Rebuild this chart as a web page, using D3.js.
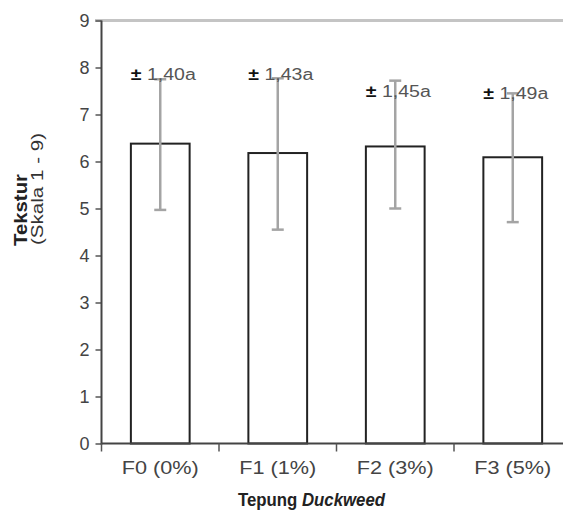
<!DOCTYPE html>
<html>
<head>
<meta charset="utf-8">
<script src="https://cdn.jsdelivr.net/npm/d3@7"></script>
<style>
  html, body { margin: 0; padding: 0; background: #fff; }
  svg { display: block; font-family: "Liberation Sans", Arial, sans-serif; }
</style>
</head>
<body>
<svg id="chart" width="563" height="512"></svg>
<script>
const categories = ["F0 (0%)", "F1 (1%)", "F2 (3%)", "F3 (5%)"];
const means = [6.38, 6.18, 6.32, 6.09];
const errUpper = [7.75, 7.77, 7.72, 7.45];
const errLower = [4.97, 4.55, 5.0, 4.71];
const sdLabels = ["1,40a", "1,43a", "1,45a", "1,49a"];
const labelY = [7.74, 7.74, 7.38, 7.33];
const yTicks = [0, 1, 2, 3, 4, 5, 6, 7, 8, 9];

const svg = d3.select("#chart");
const x = d3.scaleBand().domain(categories).range([101.5, 571.5]).paddingInner(0.5).paddingOuter(0.25);
const y = d3.scaleLinear().domain([0, 9]).range([443.5, 20.5]);

// top gray line at y=9
svg.append("line").attr("x1", 95).attr("x2", 563).attr("y1", y(9)).attr("y2", y(9))
  .attr("stroke", "#c4c4c4").attr("stroke-width", 3);

// y axis
const yAxis = svg.append("g").attr("transform", "translate(101.5,0)")
  .call(d3.axisLeft(y).tickValues(yTicks).tickSize(6).tickPadding(6).tickFormat(d3.format("d")));
yAxis.select(".domain").remove();
yAxis.selectAll(".tick line").attr("stroke", "#555").attr("stroke-width", 1.5);
yAxis.selectAll(".tick text").attr("font-size", 18).attr("fill", "#444")
  .attr("font-family", "'Liberation Sans', Arial, sans-serif");
svg.append("line").attr("x1", 101.5).attr("x2", 101.5).attr("y1", y(9)).attr("y2", y(0) + 1)
  .attr("stroke", "#444").attr("stroke-width", 2);

// bars
const data = categories.map((c, i) => ({ c, m: means[i], hi: errUpper[i], lo: errLower[i], lab: sdLabels[i], ly: labelY[i] }));
svg.append("g").selectAll("rect").data(data).join("rect")
  .attr("x", d => x(d.c)).attr("width", x.bandwidth())
  .attr("y", d => y(d.m)).attr("height", d => y(0) - y(d.m))
  .attr("fill", "#fff").attr("stroke", "#222").attr("stroke-width", 2);

// error bars
const eb = svg.append("g").attr("stroke", "#a4a4a4").attr("stroke-width", 2.5);
data.forEach(d => {
  const cx = x(d.c) + x.bandwidth() / 2;
  eb.append("line").attr("x1", cx).attr("x2", cx).attr("y1", y(d.hi)).attr("y2", y(d.lo));
  eb.append("line").attr("x1", cx - 6).attr("x2", cx + 6).attr("y1", y(d.hi)).attr("y2", y(d.hi));
  eb.append("line").attr("x1", cx - 6).attr("x2", cx + 6).attr("y1", y(d.lo)).attr("y2", y(d.lo));
});

// x axis line
svg.append("line").attr("x1", 101.5).attr("x2", 563).attr("y1", y(0)).attr("y2", y(0))
  .attr("stroke", "#444").attr("stroke-width", 2);
// x ticks at band boundaries
const halfGap = (x.step() - x.bandwidth()) / 2;
svg.append("g").selectAll("line").data(categories).join("line")
  .attr("x1", d => x(d) - halfGap).attr("x2", d => x(d) - halfGap)
  .attr("y1", y(0)).attr("y2", y(0) + 8)
  .attr("stroke", "#555").attr("stroke-width", 1.5);
// x labels
svg.append("g").selectAll("text").data(categories).join("text")
  .attr("x", d => x(d) + x.bandwidth() / 2).attr("y", 474)
  .attr("text-anchor", "middle").attr("font-size", 18).attr("fill", "#444")
  .attr("textLength", 77).attr("lengthAdjust", "spacingAndGlyphs")
  .text(d => d);

// annotations
const ann = svg.append("g").selectAll("text").data(data).join("text")
  .attr("x", d => x(d.c) + x.bandwidth() / 2 + 3).attr("y", d => y(d.ly))
  .attr("text-anchor", "middle").attr("font-size", 16)
  .attr("textLength", 65).attr("lengthAdjust", "spacingAndGlyphs");
ann.append("tspan").attr("fill", "#111").attr("font-weight", "bold").text("± ");
ann.append("tspan").attr("fill", "#555").text(d => d.lab);

// y title
svg.append("text").attr("transform", "translate(27,246) rotate(-90)")
  .attr("font-size", 18).attr("font-weight", "bold").attr("fill", "#222")
  .attr("textLength", 72).attr("lengthAdjust", "spacingAndGlyphs")
  .text("Tekstur");
svg.append("text").attr("transform", "translate(43,245) rotate(-90)")
  .attr("font-size", 17).attr("fill", "#333")
  .attr("textLength", 112).attr("lengthAdjust", "spacingAndGlyphs")
  .text("(Skala 1 - 9)");

// x title
const xt = svg.append("text").attr("x", 238).attr("y", 506)
  .attr("font-size", 18).attr("font-weight", "bold").attr("fill", "#222")
  .attr("textLength", 147).attr("lengthAdjust", "spacingAndGlyphs");
xt.append("tspan").text("Tepung ");
xt.append("tspan").attr("font-style", "italic").text("Duckweed");
</script>
</body>
</html>
